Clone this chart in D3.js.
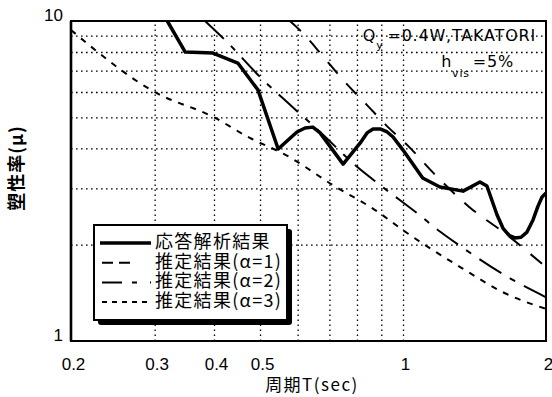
<!DOCTYPE html>
<html>
<head>
<meta charset="utf-8">
<script src="https://cdn.jsdelivr.net/npm/d3@7"></script>
<style>
  body { margin: 0; background: #fff; }
  svg { display: block; }
</style>
</head>
<body>
<svg id="chart" width="552" height="397"></svg>
<script>
// 目盛り
const tickT = [0.2, 0.3, 0.4, 0.5, 1, 2];
const tickTLabels = ["0.2", "0.3", "0.4", "0.5", "1", "2"];
const gridT = [0.3, 0.4, 0.5, 0.6, 0.7, 0.8, 0.9, 1];
const tickMu = [1, 10];
const gridMu = [2, 3, 4, 5, 6, 7, 8, 9];

// 応答解析結果 (周期 T, 塑性率 μ)
const respT = [0.319, 0.348, 0.398, 0.449, 0.495, 0.546, 0.598, 0.622, 0.646, 0.669, 0.748, 0.812, 0.84, 0.865, 0.895, 0.926, 0.953, 1.0, 1.1, 1.196, 1.338, 1.452, 1.502, 1.577, 1.624, 1.672, 1.72, 1.772, 1.824, 1.878, 1.924, 1.962, 2.0];
const respMu = [10, 8.0, 7.94, 7.39, 6.09, 3.98, 4.5, 4.63, 4.66, 4.47, 3.57, 4.15, 4.47, 4.6, 4.6, 4.5, 4.34, 3.95, 3.23, 3.03, 2.94, 3.14, 3.05, 2.48, 2.25, 2.14, 2.1, 2.11, 2.19, 2.39, 2.64, 2.82, 2.9];

// 推定結果
const est1T = [0.578, 0.615, 0.675, 0.748, 0.84, 0.93, 1.02, 1.17, 1.38, 1.66, 2.0];
const est1Mu = [10, 9.17, 7.83, 6.54, 5.46, 4.66, 4.1, 3.3, 2.62, 2.14, 1.7];
const est2T = [0.383, 0.428, 0.505, 0.573, 0.669, 0.792, 0.895, 1.07, 1.2, 1.34, 1.68, 2.0];
const est2Mu = [10, 8.54, 6.59, 5.54, 4.5, 3.55, 3.07, 2.51, 2.19, 1.95, 1.57, 1.37];
const est3T = [0.2, 0.3, 0.4, 0.476, 0.567, 0.712, 0.886, 1.0, 1.33, 1.64, 2.0];
const est3Mu = [9.37, 6.0, 5.0, 4.31, 3.81, 3.07, 2.53, 2.22, 1.69, 1.41, 1.26];

const legendLabels = ["応答解析結果", "推定結果(α=1)", "推定結果(α=2)", "推定結果(α=3)"];

const svg = d3.select("#chart");
const mLeft = 71, mRight = 546, mTop = 21, mBottom = 341;
const x = d3.scaleLog().domain([0.2, 2]).range([mLeft, mRight]);
const y = d3.scaleLog().domain([1, 10]).range([mBottom, mTop]);

const dotted = g => g.selectAll(".tick line")
  .attr("stroke", "#000").attr("stroke-width", 1.3).attr("stroke-dasharray", "1.6,3.4");

// 点線グリッド
svg.append("g")
  .attr("transform", `translate(0,${mBottom})`)
  .call(d3.axisBottom(x).tickValues(gridT).tickSize(-(mBottom - mTop)).tickFormat(""))
  .call(g => g.select(".domain").remove())
  .call(dotted);
svg.append("g")
  .attr("transform", `translate(${mLeft},0)`)
  .call(d3.axisLeft(y).tickValues(gridMu).tickSize(-(mRight - mLeft)).tickFormat(""))
  .call(g => g.select(".domain").remove())
  .call(dotted);

// 目盛りラベル
svg.append("g")
  .attr("transform", `translate(0,${mBottom})`)
  .call(d3.axisBottom(x).tickValues(tickT).tickFormat((d, i) => tickTLabels[i]).tickSize(0).tickPadding(17))
  .call(g => g.select(".domain").remove())
  .call(g => g.selectAll("text").attr("dx", 2)
    .style("font-family", "'Liberation Sans', Arial, sans-serif").style("font-size", "17px").attr("fill", "#000"));
svg.append("g")
  .attr("transform", `translate(${mLeft},0)`)
  .call(d3.axisLeft(y).tickValues(tickMu).tickFormat(d3.format("d")).tickSize(0).tickPadding(8))
  .call(g => g.select(".domain").remove())
  .call(g => g.selectAll("text").attr("dy", -1)
    .style("font-family", "'Liberation Sans', Arial, sans-serif").style("font-size", "17px").attr("fill", "#000"));

// 曲線
svg.append("clipPath").attr("id", "plot")
  .append("rect").attr("x", mLeft).attr("y", mTop).attr("width", mRight - mLeft).attr("height", mBottom - mTop);

const series = [
  { T: respT, mu: respMu, width: 3.5, dash: null, curve: d3.curveLinear },
  { T: est1T, mu: est1Mu, width: 2, dash: "15,13", curve: d3.curveMonotoneX },
  { T: est2T, mu: est2Mu, width: 2, dash: "26,10,6,10", curve: d3.curveMonotoneX },
  { T: est3T, mu: est3Mu, width: 2, dash: "6,7", curve: d3.curveMonotoneX }
];

series.forEach(s => {
  const line = d3.line().x(d => x(d[0])).y(d => y(d[1])).curve(s.curve);
  svg.append("path")
    .datum(d3.zip(s.T, s.mu))
    .attr("d", line)
    .attr("clip-path", "url(#plot)")
    .attr("fill", "none")
    .attr("stroke", "#000")
    .attr("stroke-width", s.width)
    .attr("stroke-linejoin", "round")
    .attr("stroke-dasharray", s.dash);
});

// 枠
svg.append("rect")
  .attr("x", mLeft).attr("y", mTop).attr("width", mRight - mLeft).attr("height", mBottom - mTop)
  .attr("fill", "none").attr("stroke", "#000").attr("stroke-width", 2);
svg.append("line").attr("x1", mLeft).attr("x2", mLeft).attr("y1", mTop).attr("y2", mBottom)
  .attr("stroke", "#000").attr("stroke-width", 2.6);

// 注記
const latin = "'DejaVu Sans', sans-serif";
const note1 = svg.append("text").attr("x", 536).attr("y", 41).attr("text-anchor", "end")
  .style("font-family", latin).style("font-size", "16px").style("letter-spacing", "0.8px");
note1.append("tspan").text("Q");
note1.append("tspan").attr("dy", 8).style("font-size", "11px").text("y");
note1.append("tspan").attr("dy", -8).attr("dx", 4).text("=0.4W,TAKATORI");

const note2 = svg.append("text").attr("x", 514).attr("y", 67).attr("text-anchor", "end")
  .style("font-family", latin).style("font-size", "16px").style("letter-spacing", "0.8px");
note2.append("tspan").text("h");
note2.append("tspan").attr("dy", 10).style("font-size", "11px").text("vis");
note2.append("tspan").attr("dy", -10).attr("dx", 3).text("=5%");

// 軸タイトル
const cjk = "'Noto Sans CJK JP', sans-serif";
svg.append("text").attr("x", 312).attr("y", 391).attr("text-anchor", "middle")
  .style("font-family", cjk).style("font-size", "17px").style("letter-spacing", "1.5px")
  .text("周期T(sec)");

svg.append("text").attr("transform", "translate(23,168) rotate(-90)").attr("text-anchor", "middle")
  .style("font-family", cjk).style("font-size", "18px").style("font-weight", "bold")
  .style("letter-spacing", "1px")
  .text("塑性率(μ)");

// 凡例
const legend = svg.append("g");
legend.append("rect").attr("x", 98).attr("y", 229).attr("width", 194).attr("height", 96).attr("rx", 3).attr("fill", "#000");
legend.append("rect").attr("x", 94).attr("y", 225).attr("width", 193).attr("height", 95)
  .attr("fill", "#fff").attr("stroke", "#000").attr("stroke-width", 2);

const legendDash = [null, "11,6,11,21", "20,10,5,13", "5,5"];
const legendWidth = [3.5, 2, 2, 2];
legendLabels.forEach((label, i) => {
  const base = 248 + i * 19.7;
  legend.append("line")
    .attr("x1", i === 0 ? 100 : 102).attr("x2", 151)
    .attr("y1", base - 5).attr("y2", base - 5)
    .attr("stroke", "#000").attr("stroke-width", legendWidth[i])
    .attr("stroke-dasharray", legendDash[i]);
  legend.append("text").attr("x", 155).attr("y", base)
    .style("font-family", cjk).style("font-size", "18px").style("letter-spacing", "1.3px")
    .text(label);
});
</script>
</body>
</html>
